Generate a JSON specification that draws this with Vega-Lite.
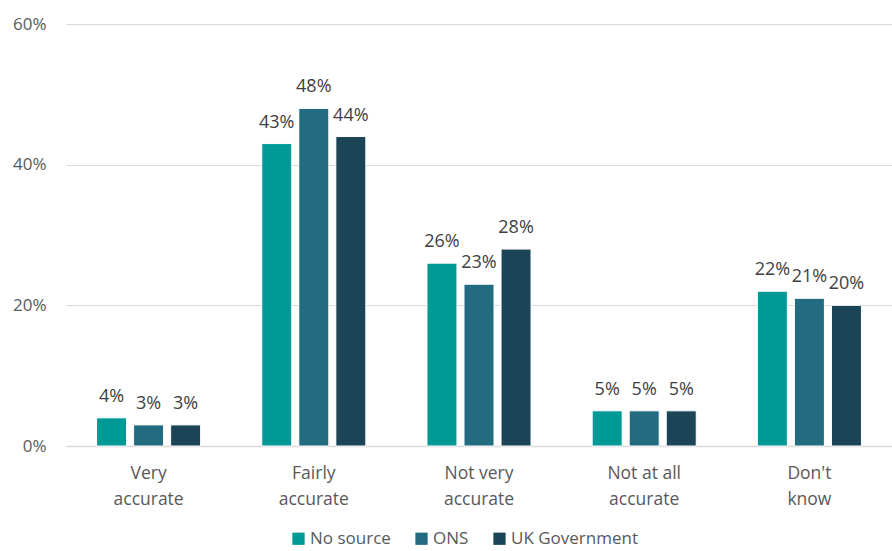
{
  "$schema": "https://vega.github.io/schema/vega-lite/v6.json",
  "autosize": {"type": "none"},
  "width": 826,
  "height": 422,
  "padding": {"left": 66, "top": 24, "right": 0, "bottom": 105},
  "background": "white",
  "config": {
    "font": "Open Sans",
    "view": {"stroke": null},
    "axis": {"labelFont": "Open Sans", "labelColor": "#595959"}
  },
  "data": {
    "values": [
      {"cat": "Very|accurate", "series": "No source", "v": 0.04},
      {"cat": "Very|accurate", "series": "ONS", "v": 0.03},
      {"cat": "Very|accurate", "series": "UK Government", "v": 0.03},
      {"cat": "Fairly|accurate", "series": "No source", "v": 0.43},
      {"cat": "Fairly|accurate", "series": "ONS", "v": 0.48},
      {"cat": "Fairly|accurate", "series": "UK Government", "v": 0.44},
      {"cat": "Not very|accurate", "series": "No source", "v": 0.26},
      {"cat": "Not very|accurate", "series": "ONS", "v": 0.23},
      {"cat": "Not very|accurate", "series": "UK Government", "v": 0.28},
      {"cat": "Not at all|accurate", "series": "No source", "v": 0.05},
      {"cat": "Not at all|accurate", "series": "ONS", "v": 0.05},
      {"cat": "Not at all|accurate", "series": "UK Government", "v": 0.05},
      {"cat": "Don't|know", "series": "No source", "v": 0.22},
      {"cat": "Don't|know", "series": "ONS", "v": 0.21},
      {"cat": "Don't|know", "series": "UK Government", "v": 0.20}
    ]
  },
  "encoding": {
    "x": {
      "field": "cat", "type": "nominal", "sort": null, "title": null,
      "scale": {"paddingInner": 0.37, "paddingOuter": 0.185},
      "axis": {"labelExpr": "split(datum.label, '|')", "labelAngle": 0, "ticks": false, "domainColor": "#d9d9d9", "domainWidth": 1.5, "labelPadding": 18, "labelLineHeight": 26, "labelBaseline": "top", "labelFontSize": 17.5}
    },
    "xOffset": {"field": "series", "type": "nominal", "scale": {"paddingInner": 0.19, "paddingOuter": 0}},
    "y": {
      "field": "v", "type": "quantitative", "title": null,
      "scale": {"domain": [0, 0.6], "nice": false},
      "axis": {"values": [0, 0.2, 0.4, 0.6], "format": ".0%", "domain": false, "ticks": false, "gridColor": "#d9d9d9", "gridWidth": 1.2, "labelPadding": 20, "labelFontSize": 17}
    }
  },
  "layer": [
    {
      "mark": {"type": "bar", "stroke": "white", "strokeWidth": 1},
      "encoding": {
        "color": {
          "field": "series", "type": "nominal", "title": null,
          "scale": {"domain": ["No source", "ONS", "UK Government"], "range": ["#009A96", "#236B80", "#1B4556"]},
          "legend": {"orient": "none", "legendX": 224, "legendY": 506, "direction": "horizontal", "symbolType": "square", "symbolSize": 150, "symbolStrokeWidth": 0, "labelFontSize": 17, "labelColor": "#595959", "labelFont": "Open Sans", "columnPadding": 22, "labelOffset": 3}
        }
      }
    },
    {
      "mark": {"type": "text", "dy": -21, "fontSize": 18, "color": "#404040", "font": "Open Sans"},
      "encoding": {"text": {"field": "v", "format": ".0%"}}
    }
  ]
}
